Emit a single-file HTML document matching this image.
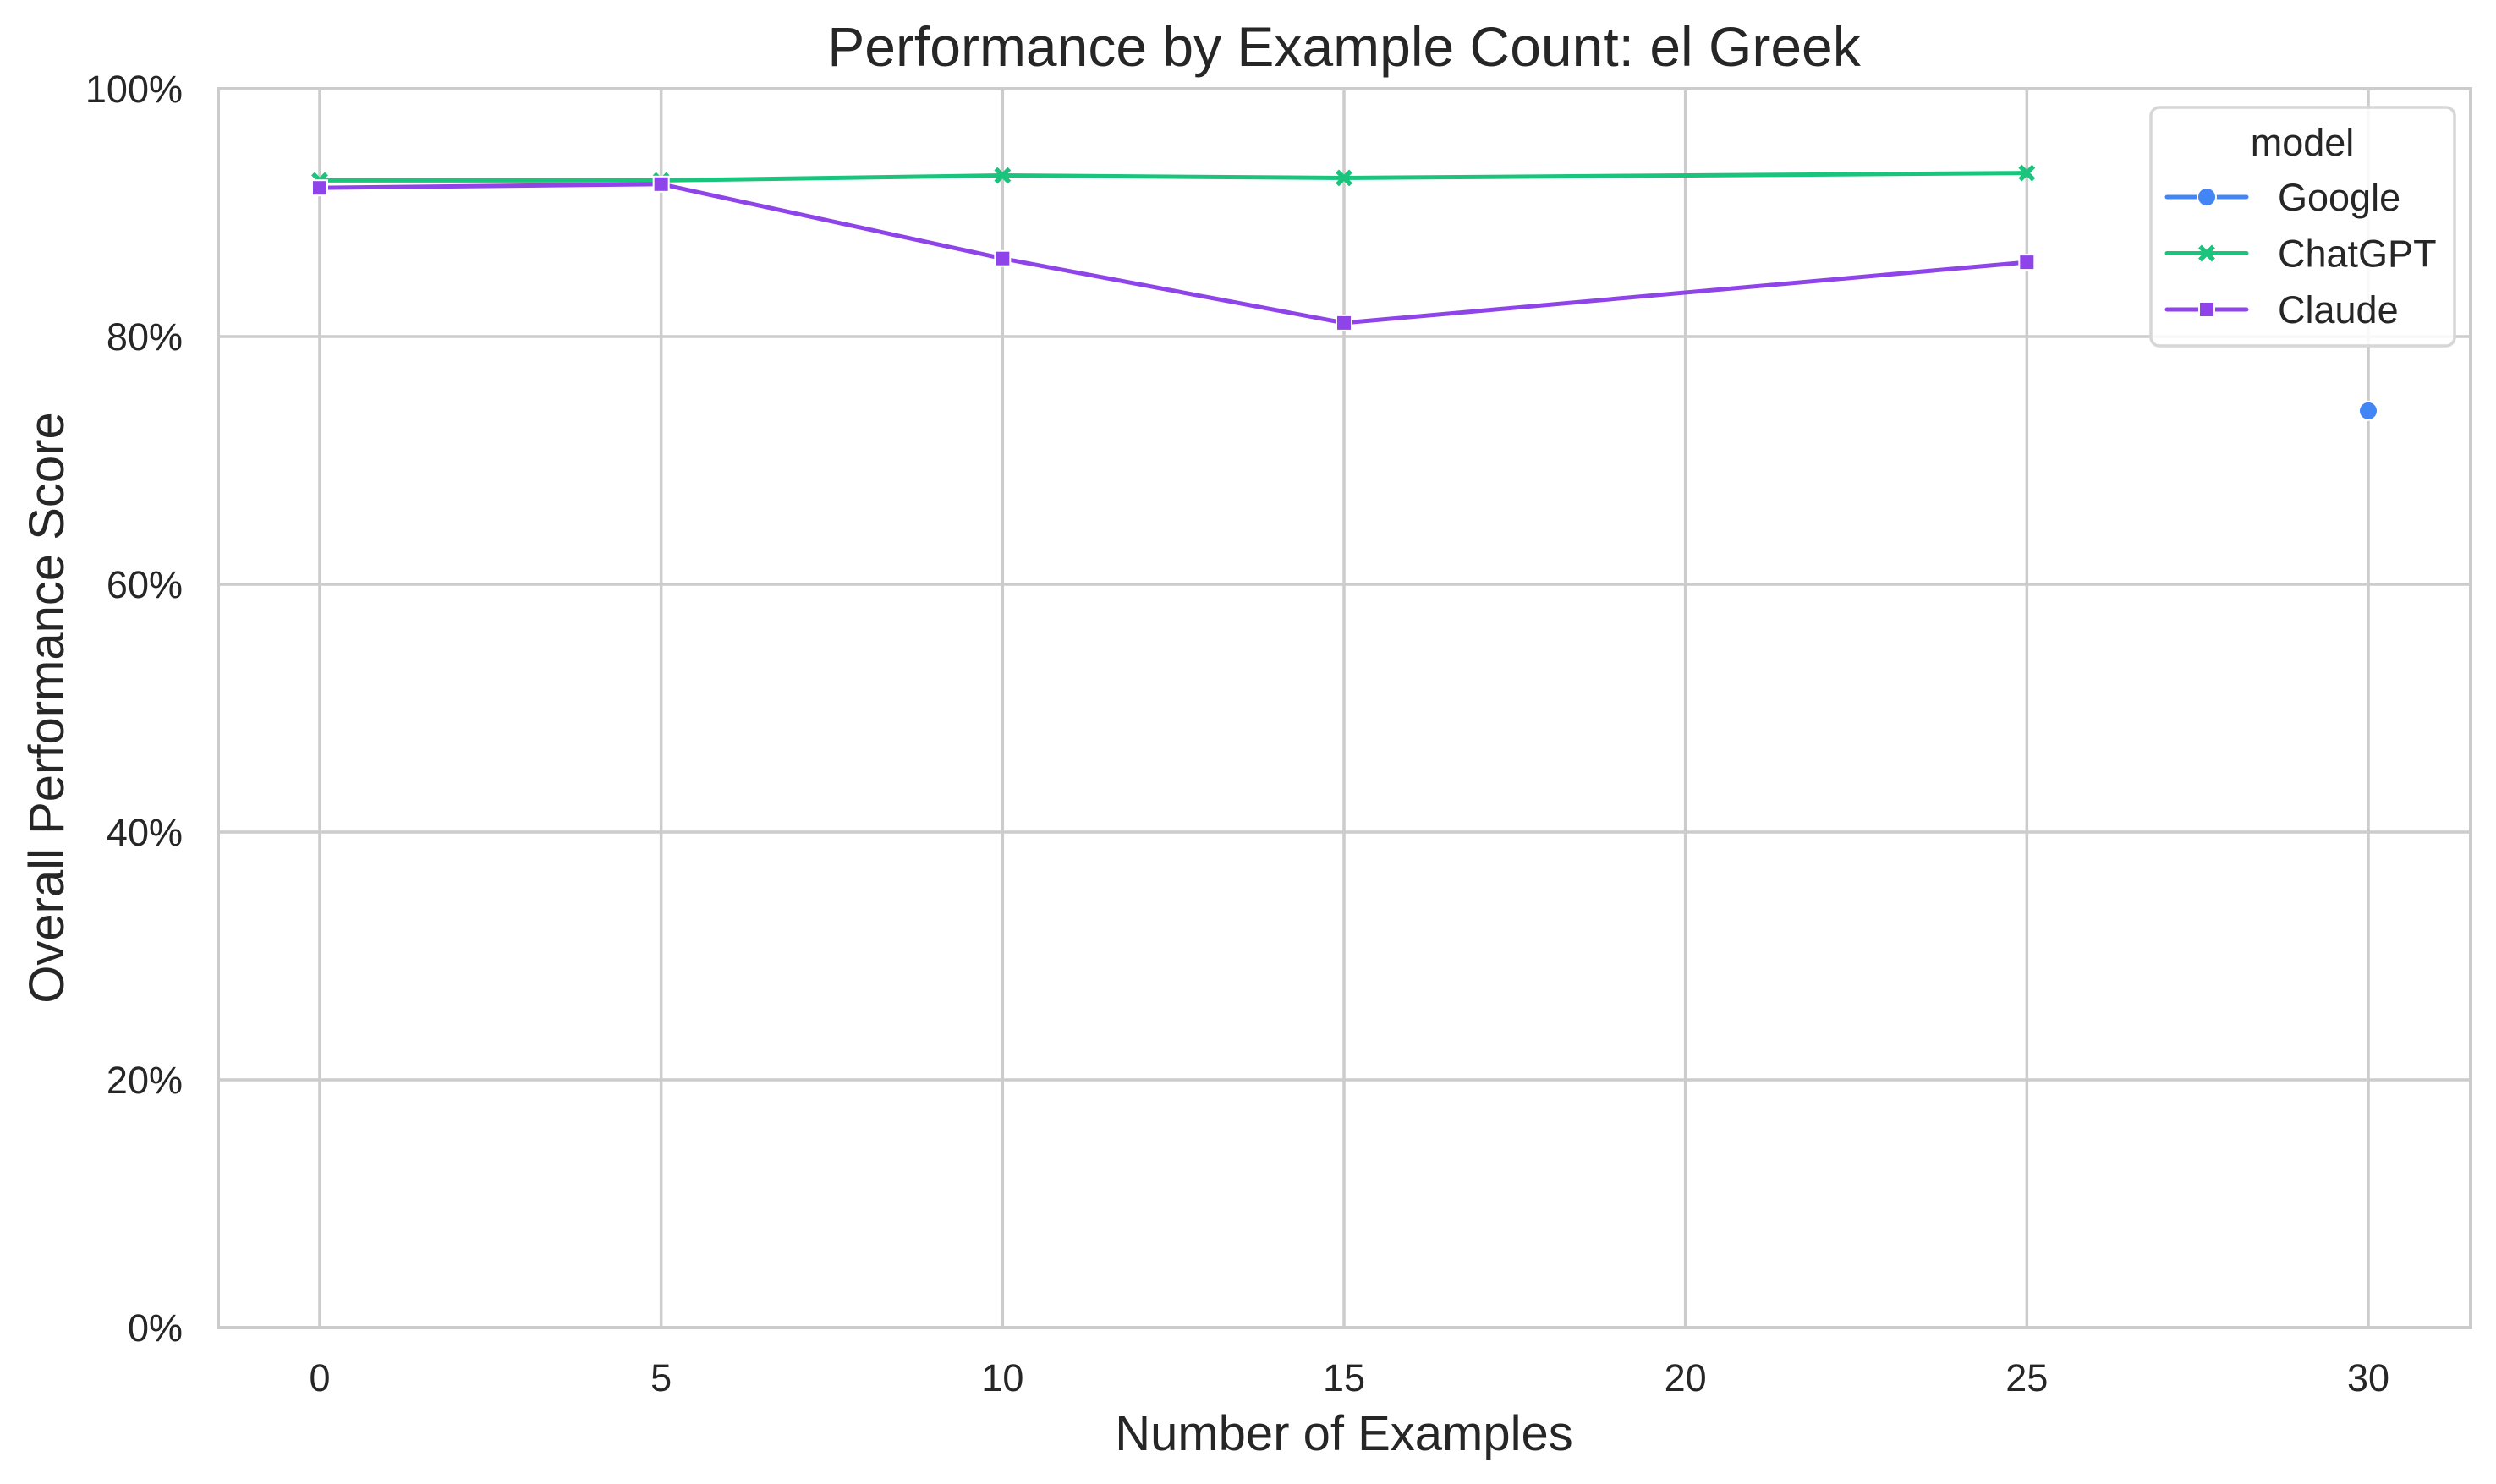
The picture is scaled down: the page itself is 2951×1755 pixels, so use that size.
<!DOCTYPE html>
<html><head><meta charset="utf-8"><style>
html,body{margin:0;padding:0;background:#fff;}
svg{display:block;font-family:"Liberation Sans",Arial,sans-serif;}
</style></head><body>
<svg id="chart" width="2951" height="1755" xmlns="http://www.w3.org/2000/svg">
<rect width="2951" height="1755" fill="#fff"/>
<g id="grid"></g>
<g id="series"></g>
<g id="axes"></g>
<text x="1589" y="78" font-size="66" text-anchor="middle" fill="#262626">Performance by Example Count: el Greek</text>
<text x="1589" y="1715" font-size="58" text-anchor="middle" fill="#262626">Number of Examples</text>
<text transform="translate(75,837) rotate(-90)" font-size="58" text-anchor="middle" fill="#262626">Overall Performance Score</text>
<g id="legend"></g>
</svg>
<script>
const xTicks=[0,5,10,15,20,25,30];
const yTicks=[0,20,40,60,80,100];
const googleX=[30];
const googleY=[74.0];
const chatgptX=[0,5,10,15,25];
const chatgptY=[92.6,92.6,93.0,92.8,93.2];
const claudeX=[0,5,10,15,25];
const claudeY=[92.0,92.3,86.3,81.1,86.0];
const seriesNames=["Google","ChatGPT","Claude"];

const L=258,R=2921,T=105,B=1570;
const X0=378,X30=2800;
function sx(v){return X0+(X30-X0)*v/30;}
function sy(v){return B-(B-T)*v/100;}
const NS="http://www.w3.org/2000/svg";
function mk(tag,attrs,parent){const e=document.createElementNS(NS,tag);for(const k in attrs)e.setAttribute(k,attrs[k]);parent.appendChild(e);return e;}
const grid=document.getElementById('grid'),axes=document.getElementById('axes'),ser=document.getElementById('series'),leg=document.getElementById('legend');
xTicks.forEach(t=>{
  const l=mk('line',{x1:sx(t),x2:sx(t),y1:T,y2:B,stroke:'#cccccc','stroke-width':3.5},grid);
  
  
  const tx=mk('text',{x:sx(t),y:B+75,'font-size':45,'text-anchor':'middle',fill:'#262626'},axes);
  tx.textContent=t;
  
  
});
yTicks.forEach(t=>{
  const l=mk('line',{x1:L,x2:R,y1:sy(t),y2:sy(t),stroke:'#cccccc','stroke-width':3.5},grid);
  
  
  const tx=mk('text',{x:L-42,y:sy(t)+16,'font-size':45,'text-anchor':'end',fill:'#262626'},axes);
  tx.textContent=t+'%';
  
  
});
const frame=mk('rect',{x:L,y:T,width:R-L,height:B-T,fill:'none',stroke:'#cccccc','stroke-width':4},axes);



function marker(type,cx,cy,color,parent){
  let e;
  if(type==='o'){e=mk('circle',{cx:cx,cy:cy,r:11,fill:color,stroke:'#fff','stroke-width':2},parent);}
  else if(type==='x'){e=mk('path',{d:`M${cx-8},${cy-8}L${cx+8},${cy+8}M${cx-8},${cy+8}L${cx+8},${cy-8}`,stroke:color,'stroke-width':5.5,fill:'none'},parent);}
  else {e=mk('rect',{x:cx-9,y:cy-9,width:18,height:18,fill:color,stroke:'#fff','stroke-width':2},parent);}
  return e;
}
const defs=[[googleX,googleY,'#4285f4','o'],[chatgptX,chatgptY,'#1bc47d','x'],[claudeX,claudeY,'#8e44e8','s']];
defs.forEach((d,i)=>{
  const [xs,ys,c,m]=d;
  if(xs.length>1){
    const p=mk('polyline',{points:xs.map((x,j)=>sx(x)+','+sy(ys[j])).join(' '),fill:'none',stroke:c,'stroke-width':5,'stroke-linejoin':'round'},ser);
    
    
  }
  xs.forEach((x,j)=>{
    const e=marker(m,sx(x),sy(ys[j]),c,ser);
    
    
  });
});
const box=mk('rect',{x:2543,y:127,width:359,height:282,rx:10,fill:'#fff','fill-opacity':0.85,stroke:'#d6d6d6','stroke-width':3.5},leg);


const lt=mk('text',{x:2722,y:184,'font-size':45,'text-anchor':'middle',fill:'#262626'},leg);
lt.textContent='model';


defs.forEach((d,i)=>{
  const y=233+i*66.5;
  const g=mk('g',{},leg);
  
  
  mk('line',{x1:2562,x2:2656,y1:y,y2:y,stroke:d[2],'stroke-width':5,'stroke-linecap':'round'},g);
  marker(d[3],2609,y,d[2],g);
  const t=mk('text',{x:2693,y:y+16,'font-size':45,fill:'#262626'},g);
  t.textContent=seriesNames[i];
});
</script>
</body></html>
